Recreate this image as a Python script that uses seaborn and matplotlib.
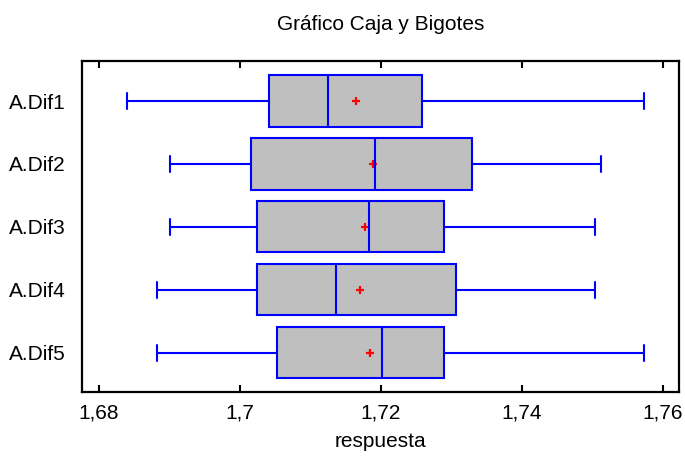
import matplotlib
matplotlib.use("Agg")
import matplotlib.pyplot as plt
from matplotlib.ticker import FuncFormatter, FixedLocator
import pandas as pd
import seaborn as sns

sns.set_theme(style="white")
plt.rcParams['font.family'] = ['Liberation Sans', 'DejaVu Sans']

# Values
groups = ['A.Dif1', 'A.Dif2', 'A.Dif3', 'A.Dif4', 'A.Dif5']
mins = [1.6840, 1.6901, 1.6901, 1.6883, 1.6883]
q1s = [1.7042, 1.7016, 1.7024, 1.7024, 1.7052]
medians = [1.7125, 1.7192, 1.7183, 1.7136, 1.7201]
q3s = [1.7259, 1.7330, 1.7290, 1.7307, 1.7290]
maxs = [1.7573, 1.7512, 1.7504, 1.7504, 1.7573]
means = [1.7165, 1.7189, 1.7178, 1.7171, 1.7184]
x_ticks = [1.68, 1.70, 1.72, 1.74, 1.76]

# Five-number summary per group as a long table
rows = []
for g, a, b, c, d, e in zip(groups, mins, q1s, medians, q3s, maxs):
	for v in (a, b, c, d, e):
		rows.append({'grupo': g, 'respuesta': v})
df = pd.DataFrame(rows)
df_mean = pd.DataFrame({'grupo': groups, 'respuesta': means})

fig = plt.figure(figsize=(6.85, 4.57), dpi=100)
ax = fig.add_axes([0.1197, 0.1422, 0.8715, 0.7243])

sns.boxplot(data=df, x='respuesta', y='grupo', order=groups, orient='h', width=0.81,
            whis=(0, 100), color='#bfbfbf', saturation=1, linecolor='#0000ff', linewidth=1.5,
            showfliers=False, capwidths=0.24, ax=ax)
sns.pointplot(data=df_mean, x='respuesta', y='grupo', order=groups, orient='h', linestyle='none',
              markers='+', color='red', errorbar=None, markersize=6, markeredgewidth=1.6, ax=ax)

ax.set_xlim(1.6776, 1.7623)
ax.set_ylim(4.62, -0.635)
ax.xaxis.set_major_locator(FixedLocator(x_ticks))
ax.xaxis.set_major_formatter(FuncFormatter(lambda v, p: f"{round(v, 4):g}".replace('.', ',')))
ax.tick_params(axis='x', which='both', top=True, bottom=True, direction='in', length=5, width=1.5,
               color='black', labelsize=15, pad=8, labelcolor='black')
ax.tick_params(axis='y', length=0, labelsize=15, pad=12, labelcolor='black')
for s in ax.spines.values():
	s.set_visible(True)
	s.set_color('black')
	s.set_linewidth(1.6)

ax.set_xlabel('respuesta', fontsize=15, labelpad=7, color='black')
ax.set_ylabel('')
ax.set_title('Gráfico Caja y Bigotes', fontsize=15, pad=22, color='black')

fig.savefig('out.png', dpi=100)
